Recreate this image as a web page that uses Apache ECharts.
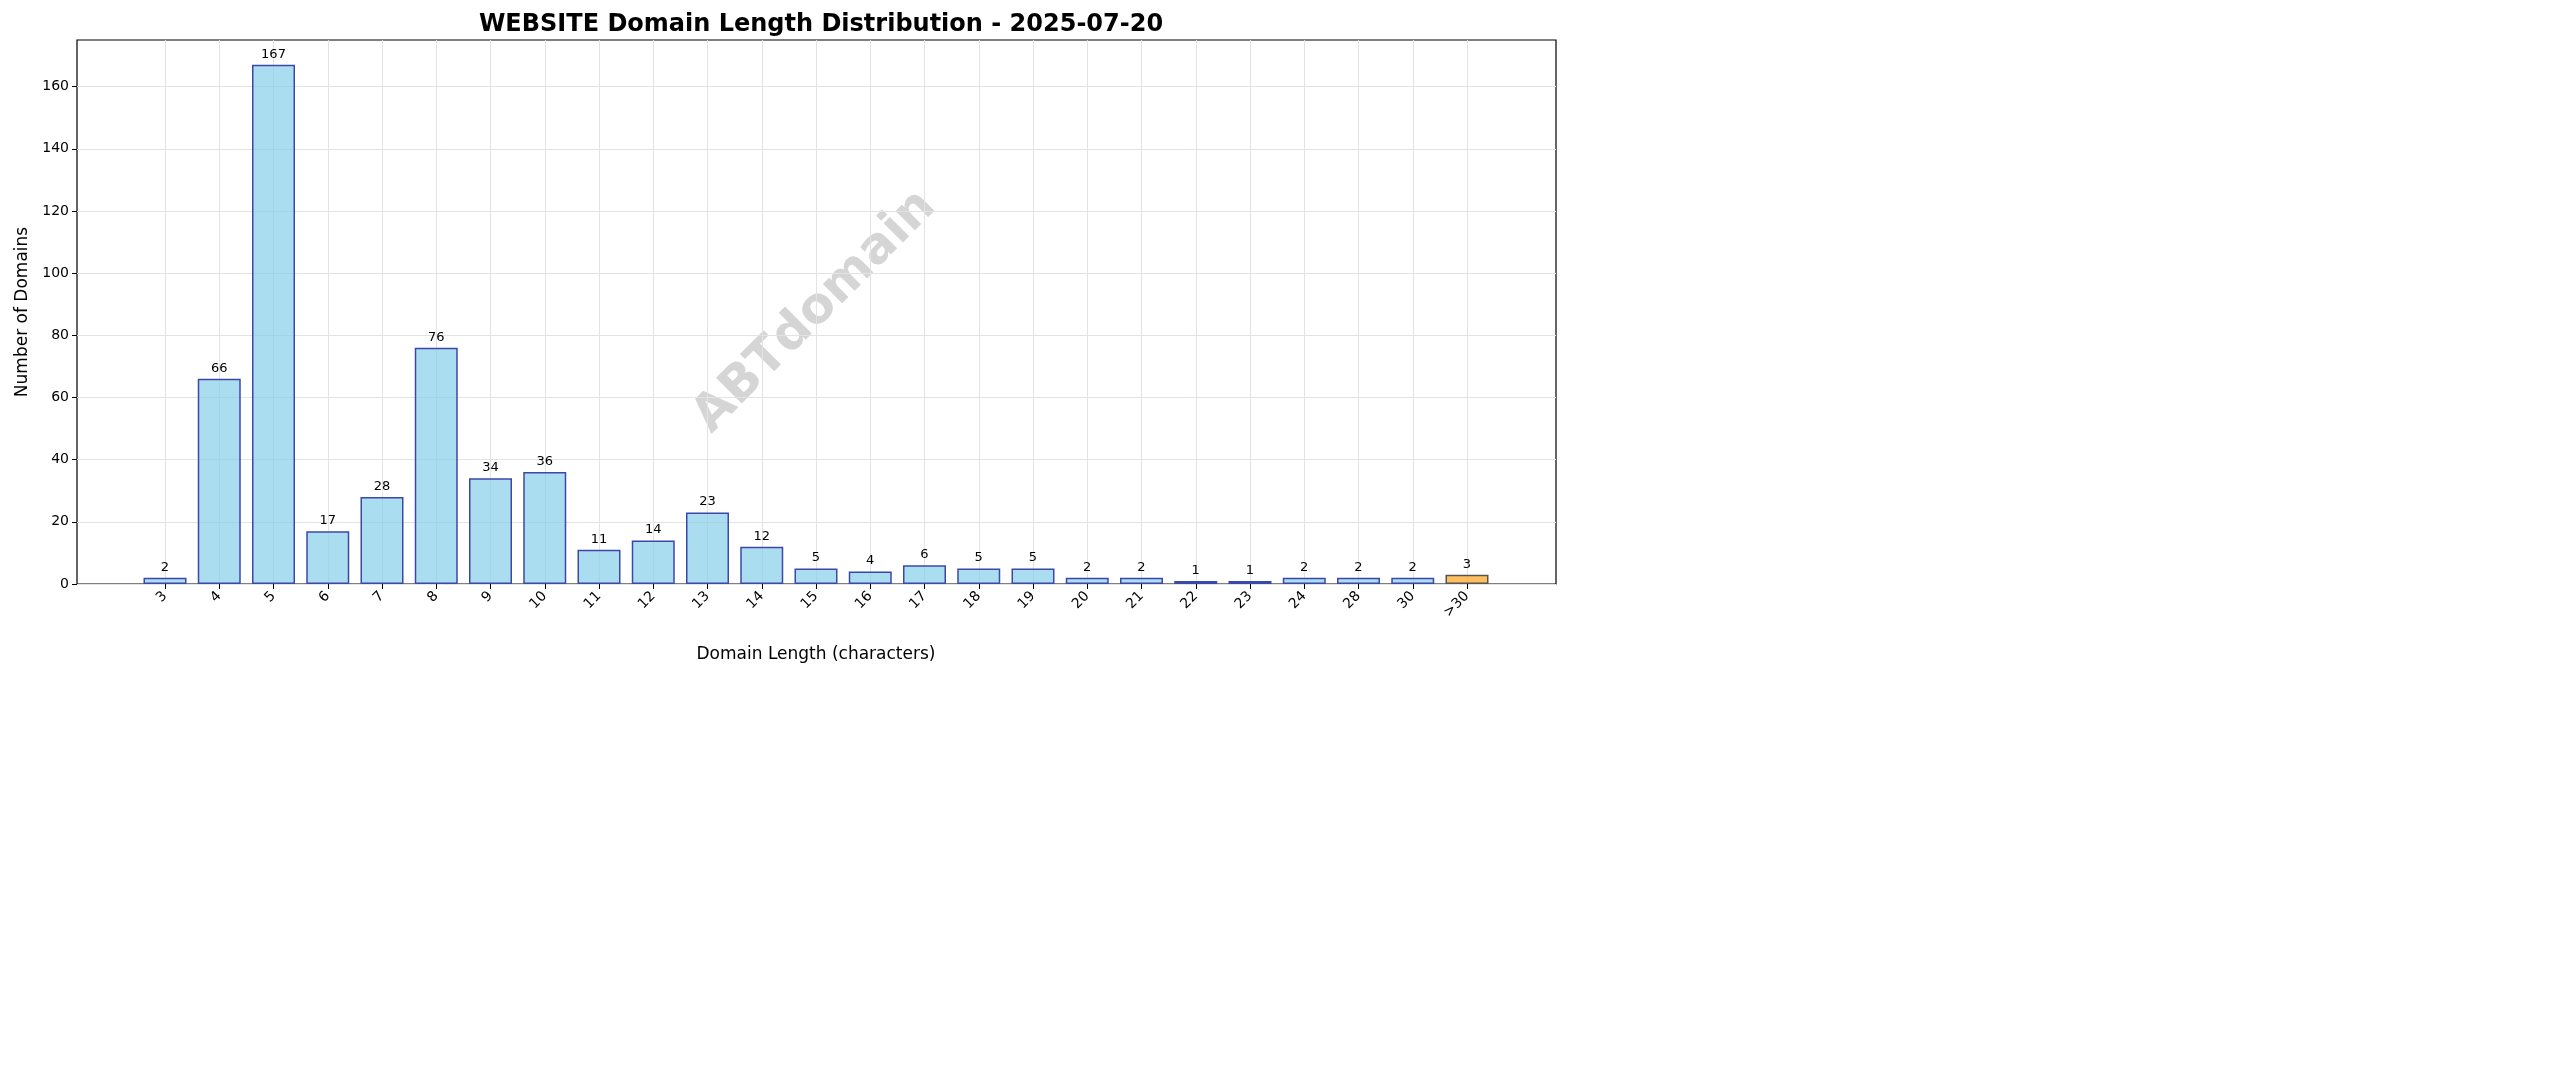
<!DOCTYPE html>
<html><head><meta charset="utf-8">
<script src="https://cdn.jsdelivr.net/npm/echarts@6/dist/echarts.min.js"></script>
<style>html,body{margin:0;padding:0;background:#fff}#c{width:2560px;height:1087px}</style>
</head><body><div id="c"></div>
<script>
const categories = ['3','4','5','6','7','8','9','10','11','12','13','14','15','16','17','18','19','20','21','22','23','24','28','30','>30'];
const counts = [2,66,167,17,28,76,34,36,11,14,23,12,5,4,6,5,5,2,2,1,1,2,2,2,3];
const yTicks = [0,20,40,60,80,100,120,140,160];
const chart = echarts.init(document.getElementById('c'));
const font = 'DejaVu Sans';
chart.setOption({
  animation:false,
  textStyle:{fontFamily:font},
  title:{text:'WEBSITE Domain Length Distribution - 2025-07-20',left:816,top:8,textAlign:'center',
    textStyle:{fontSize:24,fontWeight:'bold',color:'#000',fontFamily:font}},
  graphic:[{type:'text',x:815,y:312,rotation:Math.PI/4,
    style:{text:'ABTdomain',fontSize:50,fontWeight:'bold',fill:'rgba(150,150,150,0.4)',align:'center',verticalAlign:'middle',fontFamily:font}}],
  grid:[
    {left:77,right:1004,top:40,bottom:503,show:true,borderColor:'#000',borderWidth:1.2,backgroundColor:'transparent'},
    {left:165,right:1093,top:40,bottom:503}
  ],
  xAxis:[
    {gridIndex:0,type:'value',min:0,max:1,show:false},
    {gridIndex:1,type:'category',data:categories,boundaryGap:false,
      axisLine:{show:false},axisTick:{show:true,length:5,lineStyle:{color:'#000'}},
      axisLabel:{rotate:45,fontSize:14,color:'#000',margin:10},
      splitLine:{show:true,lineStyle:{color:'#e3e3e3',width:1}},
      name:'Domain Length (characters)',nameLocation:'middle',nameGap:62,
      nameTextStyle:{fontSize:17,color:'#000'}}
  ],
  yAxis:[
    {gridIndex:0,type:'value',min:0,max:175,interval:20,
      axisLine:{show:false},axisTick:{show:true,length:5,lineStyle:{color:'#000'},customValues:yTicks},
      axisLabel:{fontSize:14,color:'#000',customValues:yTicks},
      splitLine:{show:true,lineStyle:{color:'#e3e3e3',width:1}},
      name:'Number of Domains',nameLocation:'middle',nameGap:46,
      nameTextStyle:{fontSize:17,color:'#000'}},
    {gridIndex:1,type:'value',min:0,max:175,show:false,splitLine:{show:false}}
  ],
  series:[{type:'bar',xAxisIndex:1,yAxisIndex:1,barWidth:43,
    data:counts.map((v,i)=>({value:v,itemStyle:i===categories.length-1?{color:'rgba(255,170,40,0.75)',borderColor:'#555555'}:{}})),
    itemStyle:{color:'rgba(135,206,235,0.7)',borderColor:'#3c48a8',borderWidth:1.5},
    label:{show:true,position:'top',fontSize:13,color:'#000',distance:4}}]
});
</script></body></html>
